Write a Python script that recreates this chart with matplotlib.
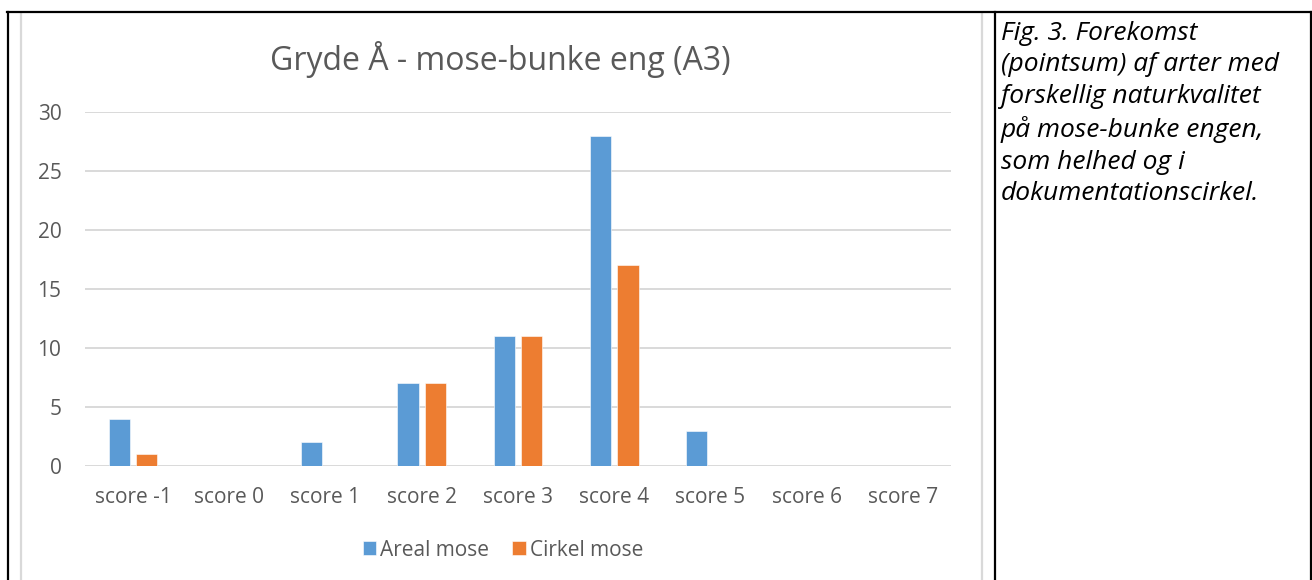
import matplotlib.pyplot as plt
import numpy as np
from matplotlib.lines import Line2D

categories = ['score -1', 'score 0', 'score 1', 'score 2', 'score 3',
              'score 4', 'score 5', 'score 6', 'score 7']
areal_mose = [4, 0, 2, 7, 11, 28, 3, 0, 0]
cirkel_mose = [1, 0, 0, 7, 11, 17, 0, 0, 0]
title = 'Gryde Å - mose-bunke eng (A3)'
caption = ('Fig. 3. Forekomst\n(pointsum) af arter med\nforskellig naturkvalitet\n'
           'på mose-bunke engen,\nsom helhed og i\ndokumentationscirkel.')

W, H = 1312, 580
plt.rcParams['font.family'] = ['Open Sans', 'DejaVu Sans']
fig = plt.figure(figsize=(W / 100, H / 100), dpi=100)

def fx(px):
    return px / W

def fy(py):
    return 1 - py / H

text_col = '#595959'
grid_col = '#D9D9D9'

ax = fig.add_axes([fx(85), fy(466), fx(951) - fx(85), fy(112) - fy(466)])
x = np.arange(len(categories))
w = 0.22
ax.bar(x - 0.143, areal_mose, w, color='#5B9BD5', label='Areal mose',
       edgecolor='white', linewidth=0.4, zorder=3)
ax.bar(x + 0.143, cirkel_mose, w, color='#ED7D31', label='Cirkel mose',
       edgecolor='white', linewidth=0.4, zorder=3)
ax.set_xlim(-0.5, len(categories) - 0.5)
ax.set_ylim(0, 30)
ax.set_yticks(range(0, 31, 5))
ax.set_xticks(x)
ax.set_xticklabels(categories)
ax.yaxis.grid(True, color=grid_col, linewidth=1.4, zorder=0)
ax.set_axisbelow(True)
for s in ax.spines.values():
    s.set_visible(False)
ax.tick_params(length=0, labelsize=15, colors=text_col)
ax.tick_params(axis='y', pad=17)
ax.tick_params(axis='x', pad=15)

fig.text(fx(500), fy(60), title, ha='center', va='center',
         fontsize=23, color=text_col)

fig.legend(loc='center', bbox_to_anchor=(fx(503), fy(550)), ncol=2,
           frameon=False, fontsize=15, labelcolor=text_col,
           handlelength=0.65, handleheight=0.65, handletextpad=0.2,
           columnspacing=1.1)

fig.text(fx(1001), fy(21), caption, ha='left', va='top', fontsize=19,
         style='italic', color='black', linespacing=1.34)

# table and chart borders
def line(xs, ys, **kw):
    fig.add_artist(Line2D([fx(v) for v in xs], [fy(v) for v in ys],
                          transform=fig.transFigure, **kw))

line([21, 21], [13, 580], color=grid_col, lw=1.6)
line([982, 982], [13, 580], color=grid_col, lw=1.6)
line([7, 1312], [12, 12], color='black', lw=1.6)
line([8, 8], [12, 580], color='black', lw=1.6)
line([995, 995], [12, 580], color='black', lw=1.6)
line([1311, 1311], [12, 580], color='black', lw=1.6)

fig.savefig('out.png', dpi=100)
